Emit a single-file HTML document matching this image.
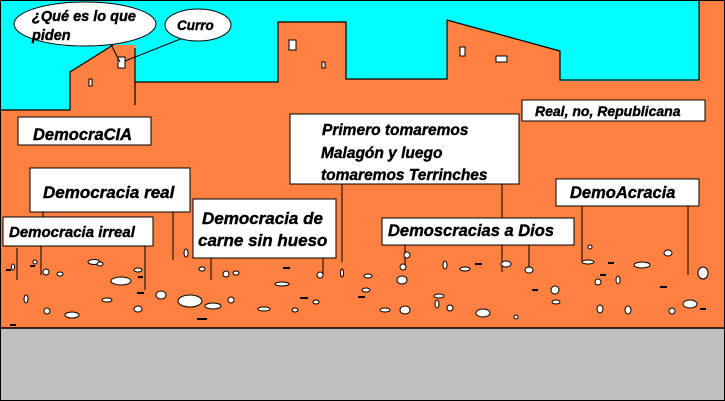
<!DOCTYPE html>
<html><head><meta charset="utf-8"><style>
html,body{margin:0;padding:0;background:#fff}
svg{display:block}
text{font-family:"Liberation Sans",sans-serif;font-weight:bold;font-style:italic;fill:#000;stroke:#000;stroke-width:0.4}
</style></head><body>
<svg width="725" height="401" viewBox="0 0 725 401" xmlns="http://www.w3.org/2000/svg">
<rect x="0" y="0" width="725" height="401" fill="#ff8040"/>
<path d="M0 0 H699 V81 H560 V51 L447 20 V79 H346 V80 V22 H278 V82 H135 V45 L113 45 L70 72 V110 H0 Z" fill="#00ffff"/>
<path d="M0 110 H70 V72 L113 45 M135 48 V105 M135 82 H278 V22 H346 V79 H447 V20 L560 51 V80 H699 V0" fill="none" stroke="#000" stroke-width="1.2"/>
<rect x="0" y="328" width="725" height="73" fill="#c0c0c0"/>
<line x1="0" y1="328" x2="725" y2="328" stroke="#000" stroke-width="1.5"/>
<rect x="0.5" y="0.5" width="724" height="400" fill="none" stroke="#000"/>
<g fill="#fff" stroke="#000" stroke-width="1">
<rect x="118" y="57" width="7" height="11"/><rect x="89" y="79" width="3" height="7"/>
<rect x="289" y="40" width="7" height="10"/><rect x="322" y="62" width="3" height="6"/>
<rect x="460" y="47" width="5" height="9"/><rect x="496" y="56" width="11" height="6"/>
</g>
<g stroke="#000" stroke-width="1">
<line x1="106" y1="35" x2="120" y2="62"/><line x1="183" y1="38" x2="125" y2="61"/>
<line x1="41" y1="246" x2="41" y2="275"/><line x1="43" y1="212" x2="43" y2="217"/>
<line x1="173" y1="212" x2="173" y2="260"/><line x1="145" y1="246" x2="145" y2="290"/>
<line x1="211" y1="258" x2="211" y2="280"/><line x1="323" y1="258" x2="323" y2="275"/>
<line x1="342" y1="184" x2="342" y2="262"/><line x1="405" y1="245" x2="405" y2="265"/>
<line x1="502" y1="184" x2="502" y2="272"/><line x1="529" y1="245" x2="529" y2="268"/>
<line x1="582" y1="206" x2="582" y2="262"/><line x1="688" y1="206" x2="688" y2="275"/>
<line x1="17" y1="248" x2="17" y2="280"/>
</g>
<g fill="#fff" stroke="#000" stroke-width="1">
<ellipse cx="85" cy="24" rx="71" ry="22"/><ellipse cx="198" cy="25" rx="33" ry="16"/>
<rect x="18" y="117" width="133" height="28"/>
<rect x="30" y="168" width="160" height="44"/>
<rect x="3" y="217" width="150" height="29"/>
<rect x="193" y="199" width="143" height="59"/>
<rect x="382" y="218" width="192" height="27"/>
<rect x="290" y="114" width="229" height="70"/>
<rect x="522" y="100" width="183" height="21"/>
<rect x="556" y="179" width="143" height="27"/>
</g>
<text x="32" y="21" font-size="14.5">¿Qué es lo que</text>
<text x="32" y="40" font-size="14.5">piden</text>
<text x="177" y="30" font-size="13.5">Curro</text>
<text x="33" y="140" font-size="16.5">DemocraCIA</text>
<text x="43" y="198" font-size="17">Democracia real</text>
<text x="9" y="237" font-size="15">Democracia irreal</text>
<text x="202" y="224" font-size="17">Democracia de</text>
<text x="198" y="246" font-size="17">carne sin hueso</text>
<text x="388" y="236" font-size="16.5">Demoscracias a Dios</text>
<text x="322" y="135" font-size="15.5">Primero tomaremos</text>
<text x="321" y="158" font-size="15.5">Malagón y luego</text>
<text x="321" y="180" font-size="15.5">tomaremos Terrinches</text>
<text x="535" y="116" font-size="14">Real, no, Republicana</text>
<text x="570" y="198" font-size="16.5">DemoAcracia</text>
<g fill="#fff" stroke="#000" stroke-width="1">
<ellipse cx="94" cy="262" rx="6" ry="2.5"/><ellipse cx="121" cy="281" rx="10" ry="4"/><ellipse cx="190" cy="301" rx="12" ry="6"/>
<ellipse cx="161" cy="295" rx="5" ry="4"/><ellipse cx="213" cy="306" rx="8" ry="3"/><ellipse cx="138" cy="309" rx="4" ry="3"/>
<ellipse cx="100" cy="264" rx="3" ry="2"/><ellipse cx="60" cy="274" rx="3" ry="2"/><ellipse cx="46" cy="272" rx="3" ry="3"/>
<ellipse cx="107" cy="300" rx="5" ry="2"/><ellipse cx="72" cy="315" rx="7" ry="3"/><ellipse cx="47" cy="311" rx="3" ry="3"/>
<ellipse cx="26" cy="299" rx="2" ry="4"/><ellipse cx="186" cy="253" rx="2" ry="4"/><ellipse cx="202" cy="269" rx="3" ry="2"/>
<ellipse cx="226" cy="274" rx="3" ry="3"/><ellipse cx="236" cy="273" rx="3" ry="2"/><ellipse cx="282" cy="284" rx="7" ry="2"/>
<ellipse cx="320" cy="275" rx="3" ry="3"/><ellipse cx="342" cy="273" rx="1.5" ry="4"/><ellipse cx="366" cy="290" rx="4" ry="2"/>
<ellipse cx="385" cy="310" rx="5" ry="2"/><ellipse cx="402" cy="280" rx="5" ry="4"/><ellipse cx="405" cy="310" rx="5" ry="4"/>
<ellipse cx="403" cy="267" rx="3" ry="3"/><ellipse cx="439" cy="296" rx="5" ry="2"/><ellipse cx="465" cy="269" rx="5" ry="2"/>
<ellipse cx="483" cy="313" rx="7" ry="4"/><ellipse cx="506" cy="264" rx="5" ry="3"/><ellipse cx="529" cy="270" rx="4" ry="3"/>
<ellipse cx="555" cy="290" rx="4" ry="4"/><ellipse cx="588" cy="262" rx="6" ry="2"/><ellipse cx="598" cy="282" rx="3" ry="3"/>
<ellipse cx="642" cy="265" rx="8" ry="3"/><ellipse cx="668" cy="253" rx="4" ry="3"/><ellipse cx="703" cy="273" rx="5" ry="6"/>
<ellipse cx="690" cy="304" rx="7" ry="4"/><ellipse cx="628" cy="310" rx="3" ry="4"/><ellipse cx="672" cy="311" rx="3" ry="3"/>
<ellipse cx="618" cy="280" rx="2" ry="4"/><ellipse cx="590" cy="247" rx="2" ry="2"/><ellipse cx="407" cy="255" rx="3" ry="3"/>
<ellipse cx="295" cy="310" rx="3" ry="2"/><ellipse cx="264" cy="309" rx="6" ry="2"/><ellipse cx="368" cy="276" rx="4" ry="2"/>
<ellipse cx="13" cy="267" rx="1.5" ry="3"/><ellipse cx="35" cy="262" rx="2" ry="2"/><ellipse cx="138" cy="270" rx="4" ry="2"/>
<ellipse cx="231" cy="300" rx="3" ry="3"/><ellipse cx="316" cy="302" rx="3" ry="2"/><ellipse cx="450" cy="308" rx="3" ry="3"/>
<ellipse cx="516" cy="317" rx="2" ry="2"/><ellipse cx="556" cy="302" rx="4" ry="2"/><ellipse cx="600" cy="309" rx="3" ry="4"/>
<ellipse cx="445" cy="265" rx="2" ry="4"/><ellipse cx="437" cy="304" rx="2" ry="4"/>
</g>
<g stroke="#000" stroke-width="2">
<line x1="6" y1="270" x2="11" y2="270"/><line x1="30" y1="266" x2="35" y2="266"/><line x1="138" y1="277" x2="143" y2="277"/>
<line x1="137" y1="293" x2="144" y2="293"/><line x1="197" y1="319" x2="207" y2="319"/><line x1="283" y1="268" x2="290" y2="268"/>
<line x1="300" y1="298" x2="308" y2="298"/><line x1="358" y1="297" x2="365" y2="297"/><line x1="475" y1="264" x2="482" y2="264"/>
<line x1="532" y1="290" x2="538" y2="290"/><line x1="608" y1="263" x2="614" y2="263"/><line x1="600" y1="275" x2="606" y2="275"/>
<line x1="660" y1="287" x2="667" y2="287"/><line x1="700" y1="309" x2="706" y2="309"/><line x1="10" y1="325" x2="16" y2="325"/>
</g>
</svg>
</body></html>
